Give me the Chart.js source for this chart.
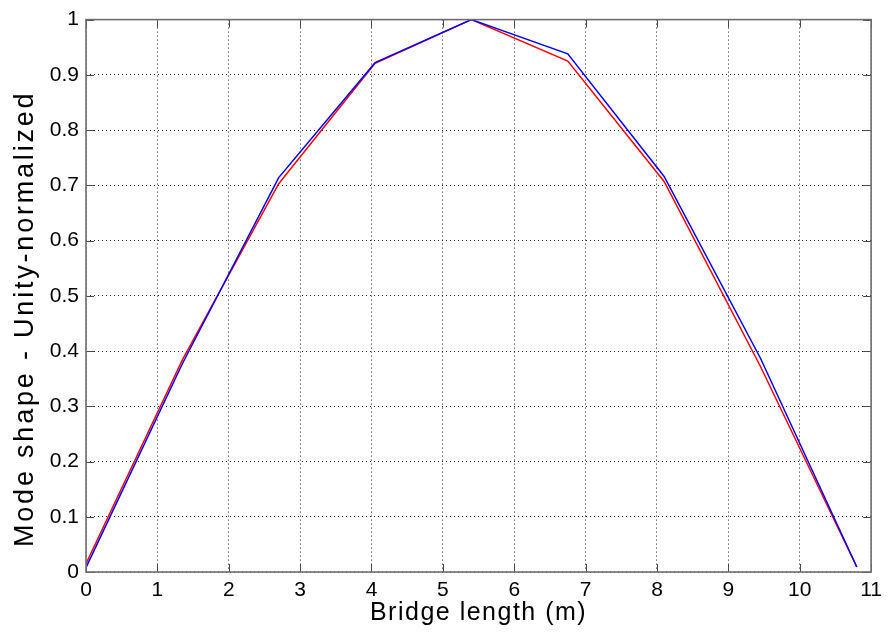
<!DOCTYPE html>
<html>
<head>
<meta charset="utf-8">
<script src="https://cdn.jsdelivr.net/npm/chart.js@4"></script>
<style>
  html, body { margin: 0; padding: 0; background: #fff; }
  #wrap { width: 888px; height: 635px; position: relative; }
</style>
</head>
<body>
<div id="wrap"><canvas id="c" width="888" height="635"></canvas></div>
<script>
// Bridge node positions (m)
const positions = [0, 1.35, 2.7, 4.05, 5.4, 6.75, 8.1, 9.45, 10.8];
// Mode shape series (unity-normalized)
const blueSeries = [0.008, 0.377, 0.714, 0.922, 1.0, 0.938, 0.716, 0.387, 0.009];
const redSeries  = [0.015, 0.384, 0.703, 0.921, 1.0, 0.925, 0.707, 0.372, 0.009];
// Tick labels
const xTickLabels = ['0','1','2','3','4','5','6','7','8','9','10','11'];
const yTickLabels = ['0','0.1','0.2','0.3','0.4','0.5','0.6','0.7','0.8','0.9','1'];
const xTitle = 'Bridge length (m)';
const yTitle = 'Mode shape - Unity-normalized';

const FONT = "'Liberation Sans', Arial, Helvetica, sans-serif";

const toXY = (xs, ys) => xs.map((x, i) => ({x: x, y: ys[i]}));

const boxPlugin = {
  id: 'boxPlugin',
  beforeDraw(chart) {
    const spacing = {x: '1.5px', y: '2.8px'};
    const shiftY = {x: 0, y: 23};
    ['x', 'y'].forEach(id => {
      const s = chart.scales[id];
      if (s && !s.__patched) {
        const orig = s.drawTitle;
        s.drawTitle = function() {
          const ctx = this.ctx;
          ctx.save();
          try { ctx.letterSpacing = spacing[id]; } catch (e) {}
          ctx.translate(0, shiftY[id]);
          orig.apply(this, arguments);
          ctx.restore();
        };
        s.__patched = true;
      }
    });
  },
  afterDatasetsDraw(chart) {
    const {ctx, chartArea: a, scales: {x, y}} = chart;
    ctx.save();
    ctx.strokeStyle = '#4a4a4a';
    ctx.lineWidth = 1;
    const tl = 8;
    ctx.beginPath();
    x.ticks.forEach(t => {
      const px = Math.round(x.getPixelForValue(t.value)) + 0.5;
      ctx.moveTo(px, a.bottom); ctx.lineTo(px, a.bottom - tl);
      ctx.moveTo(px, a.top); ctx.lineTo(px, a.top + tl);
    });
    y.ticks.forEach(t => {
      const py = Math.round(y.getPixelForValue(t.value)) + 0.5;
      ctx.moveTo(a.left, py); ctx.lineTo(a.left + tl, py);
      ctx.moveTo(a.right, py); ctx.lineTo(a.right - tl, py);
    });
    ctx.stroke();
    ctx.strokeStyle = '#6e6e6e';
    ctx.lineWidth = 1.6;
    ctx.strokeRect(a.left, a.top, a.right - a.left, a.bottom - a.top);
    ctx.restore();
  }
};

new Chart(document.getElementById('c'), {
  type: 'line',
  data: {
    datasets: [
      {
        label: 'Mode A',
        data: toXY(positions, blueSeries),
        borderColor: '#0000ff',
        borderWidth: 1.5,
        pointRadius: 0,
        tension: 0,
        fill: false
      },
      {
        label: 'Mode B',
        data: toXY(positions, redSeries),
        borderColor: '#ff0000',
        borderWidth: 1.5,
        pointRadius: 0,
        tension: 0,
        fill: false
      }
    ]
  },
  options: {
    responsive: false,
    animation: false,
    devicePixelRatio: 1,
    layout: { padding: { left: 0, top: 16, right: 15, bottom: 0 } },
    plugins: {
      legend: { display: false },
      tooltip: { enabled: false },
      title: { display: false }
    },
    scales: {
      x: {
        type: 'linear',
        min: 0,
        max: 11,
        afterFit: s => { s.height = 63; },
        ticks: {
          stepSize: 1,
          padding: 6,
          color: '#000',
          font: { family: FONT, size: 21 },
          maxRotation: 0,
          autoSkip: false,
          callback: (v, i) => xTickLabels[i]
        },
        grid: {
          drawTicks: false,
          color: '#222',
          lineWidth: 1
        },
        border: { display: false, dash: [1, 3] },
        title: {
          display: true,
          text: xTitle,
          color: '#000',
          font: { family: FONT, size: 25 },
          padding: { top: 0, bottom: 7 }
        }
      },
      y: {
        type: 'linear',
        min: 0,
        max: 1,
        afterFit: s => { s.width = 86; },
        ticks: {
          stepSize: 0.1,
          padding: 7,
          color: '#000',
          font: { family: FONT, size: 21 },
          autoSkip: false,
          callback: (v, i) => yTickLabels[i]
        },
        grid: {
          drawTicks: false,
          color: '#222',
          lineWidth: 1
        },
        border: { display: false, dash: [1, 3] },
        title: {
          display: true,
          text: yTitle,
          color: '#000',
          font: { family: FONT, size: 27 },
          padding: { top: 9, bottom: 0 }
        }
      }
    }
  },
  plugins: [boxPlugin]
});
</script>
</body>
</html>
